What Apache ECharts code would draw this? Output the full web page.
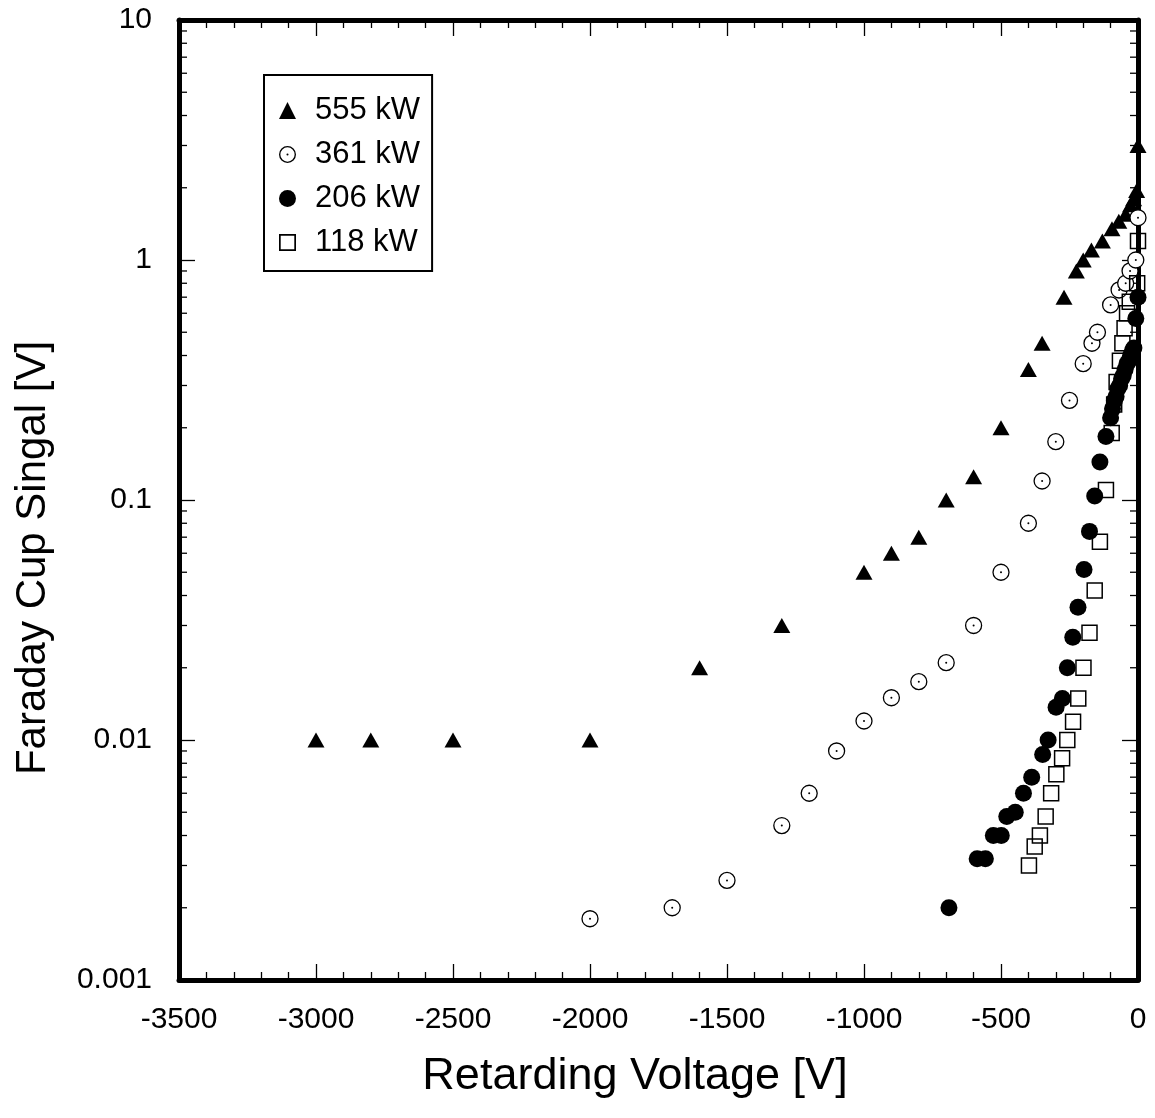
<!DOCTYPE html>
<html>
<head>
<meta charset="utf-8">
<script src="https://cdn.jsdelivr.net/npm/echarts@6/dist/echarts.min.js"></script>
<style>
html,body{margin:0;padding:0;background:#fff;}
#chart{width:1155px;height:1118px;}
</style>
</head>
<body>
<div id="chart"></div>
<script>
// ---- data ----
const seriesNames = ['555 kW', '361 kW', '206 kW', '118 kW'];

const x555 = [-3000, -2800, -2500, -2000, -1600, -1300, -1000, -900, -800, -700, -600, -500, -400, -350, -270, -225, -200, -170, -130, -95, -70, -45, -27, -16, -5, 0];
const y555 = [0.01, 0.01, 0.01, 0.01, 0.02, 0.03, 0.05, 0.06, 0.07, 0.1, 0.125, 0.2, 0.35, 0.45, 0.7, 0.9, 1.0, 1.1, 1.2, 1.35, 1.45, 1.55, 1.7, 1.8, 1.95, 3.0];

const x361 = [-2000, -1700, -1500, -1300, -1200, -1100, -1000, -900, -800, -700, -600, -500, -400, -350, -300, -250, -200, -168, -148, -100, -69, -45, -29, -8, 0];
const y361 = [0.0018, 0.002, 0.0026, 0.0044, 0.006, 0.009, 0.012, 0.015, 0.0175, 0.021, 0.03, 0.05, 0.08, 0.12, 0.175, 0.26, 0.37, 0.45, 0.5, 0.65, 0.75, 0.8, 0.9, 1.0, 1.5];

const x206 = [-690, -587, -557, -528, -499, -479, -448, -418, -388, -348, -328, -299, -276, -258, -238, -219, -197, -177, -158, -139, -117, -100, -93, -86, -80, -74, -67, -60, -54, -47, -40, -33, -27, -20, -15, -8, 0];
const y206 = [0.002, 0.0032, 0.0032, 0.004, 0.004, 0.0048, 0.005, 0.006, 0.007, 0.0087, 0.01, 0.0137, 0.0149, 0.02, 0.0268, 0.0357, 0.0513, 0.074, 0.104, 0.144, 0.184, 0.22, 0.24, 0.26, 0.27, 0.29, 0.30, 0.32, 0.33, 0.35, 0.37, 0.38, 0.40, 0.42, 0.43, 0.57, 0.70];

const x118 = [-398, -377, -358, -337, -317, -298, -277, -258, -237, -218, -199, -177, -158, -139, -117, -96, -87, -78, -66, -57, -49, -40, -30, -3, 0];
const y118 = [0.003, 0.0036, 0.004, 0.0048, 0.006, 0.0072, 0.0084, 0.01, 0.0119, 0.0149, 0.02, 0.028, 0.042, 0.067, 0.11, 0.19, 0.25, 0.31, 0.38, 0.45, 0.52, 0.6, 0.67, 0.8, 1.2];

const xTickLabels = {'-3500':'-3500','-3000':'-3000','-2500':'-2500','-2000':'-2000','-1500':'-1500','-1000':'-1000','-500':'-500','0':'0'};
const yTickLabels = ['0.001', '0.01', '0.1', '1', '10'];
const yMinorTicks = [0.002,0.003,0.004,0.005,0.006,0.007,0.008,0.009,
                     0.02,0.03,0.04,0.05,0.06,0.07,0.08,0.09,
                     0.2,0.3,0.4,0.5,0.6,0.7,0.8,0.9,
                     2,3,4,5,6,7,8,9];

const xTitle = 'Retarding Voltage [V]';
const yTitle = 'Faraday Cup Singal [V]';

// ---- build ----
const zip = (xs, ys) => xs.map((x, i) => [x, ys[i]]);
const FONT = '"Liberation Sans", Arial, Helvetica, sans-serif';
const RING_DOT = 'path://M50,0 A50,50 0 1,1 50,100 A50,50 0 1,1 50,0 Z M50,8 A42,42 0 1,0 50,92 A42,42 0 1,0 50,8 Z M50,44 A6,6 0 1,1 50,56 A6,6 0 1,1 50,44 Z';
const HOLLOW_SQ = 'path://M0,0 L100,0 L100,100 L0,100 Z M10,10 L10,90 L90,90 L90,10 Z';

const chart = echarts.init(document.getElementById('chart'), null, {renderer: 'canvas'});

const axisLine = {show: true, onZero: false, lineStyle: {color: '#000', width: 5}};
const tick = {show: true, inside: true, length: 16, lineStyle: {color: '#000', width: 1.3}};
const minorTick = {show: true, splitNumber: 5, length: 8, lineStyle: {color: '#000', width: 1.3}};
const legendStyle = {color: '#000', borderWidth: 0, opacity: 1};

const option = {
  backgroundColor: '#fff',
  animation: false,
  grid: {left: 179, right: 17, top: 20, bottom: 138, containLabel: false},
  legend: {
    orient: 'vertical',
    left: 264, top: 75,
    padding: [20, 12, 13, 15],
    itemGap: 13,
    itemWidth: 17, itemHeight: 17,
    borderColor: '#000', borderWidth: 2,
    backgroundColor: '#fff',
    selectedMode: false,
    textStyle: {fontSize: 31, lineHeight: 31, color: '#000', fontFamily: FONT, padding: [0, 0, 0, 14]},
    data: [
      {name: seriesNames[0], icon: 'triangle', itemStyle: legendStyle},
      {name: seriesNames[1], icon: RING_DOT, itemStyle: legendStyle},
      {name: seriesNames[2], icon: 'circle', itemStyle: legendStyle},
      {name: seriesNames[3], icon: HOLLOW_SQ, itemStyle: legendStyle}
    ]
  },
  xAxis: [
    {
      type: 'value', position: 'bottom', min: -3500, max: 0, interval: 500,
      axisLine: axisLine, axisTick: tick, minorTick: minorTick,
      splitLine: {show: false}, minorSplitLine: {show: false},
      axisLabel: {show: true, margin: 25, fontSize: 30, color: '#000', fontFamily: FONT,
                  formatter: v => xTickLabels[String(v)] ?? String(v)}
    },
    {
      type: 'value', position: 'top', min: -3500, max: 0, interval: 500,
      axisLine: axisLine, axisTick: tick, minorTick: minorTick,
      splitLine: {show: false}, axisLabel: {show: false}
    }
  ],
  yAxis: [
    {
      type: 'log', logBase: 10, position: 'left', min: 0.001, max: 10,
      axisLine: axisLine, axisTick: tick, minorTick: {show: false},
      splitLine: {show: false},
      axisLabel: {show: true, margin: 27, fontSize: 30, color: '#000', fontFamily: FONT,
                  formatter: v => yTickLabels[Math.round(Math.log10(v)) + 3]}
    },
    {
      type: 'log', logBase: 10, position: 'right', min: 0.001, max: 10,
      axisLine: axisLine, axisTick: tick, minorTick: {show: false},
      splitLine: {show: false}, axisLabel: {show: false}
    }
  ],
  graphic: [
    {
      type: 'text', x: 33, y: 558, rotation: Math.PI / 2,
      style: {text: yTitle, font: '42px ' + FONT, fill: '#000', textAlign: 'center', textVerticalAlign: 'middle'}
    },
    {
      type: 'text', x: 635, y: 1077,
      style: {text: xTitle, font: '45px ' + FONT, fill: '#000', textAlign: 'center', textVerticalAlign: 'middle'}
    }
  ],
  series: [
    {
      type: 'custom', name: '_yminor', silent: true, clip: false,
      xAxisIndex: 0, yAxisIndex: 0,
      data: yMinorTicks.map(v => [0, v]),
      renderItem: function (params, api) {
        const v = api.value(1);
        const l = api.coord([-3500, v]);
        const r = api.coord([0, v]);
        const st = {stroke: '#000', lineWidth: 1.3};
        return {type: 'group', children: [
          {type: 'line', shape: {x1: l[0], y1: l[1], x2: l[0] + 8, y2: l[1]}, style: st},
          {type: 'line', shape: {x1: r[0] - 8, y1: r[1], x2: r[0], y2: r[1]}, style: st}
        ]};
      }
    },
    {
      type: 'scatter', name: seriesNames[0], data: zip(x555, y555),
      symbol: 'triangle', symbolSize: [17, 15], clip: false,
      itemStyle: {color: '#000', opacity: 1}
    },
    {
      type: 'scatter', name: seriesNames[1], data: zip(x361, y361),
      symbol: 'circle', symbolSize: 16, clip: false,
      itemStyle: {color: '#fff', borderColor: '#000', borderWidth: 1.3, opacity: 1}
    },
    {
      type: 'scatter', name: '_361dot', data: zip(x361, y361),
      symbol: 'circle', symbolSize: 2, clip: false, silent: true,
      itemStyle: {color: '#000', opacity: 1}
    },
    {
      type: 'scatter', name: seriesNames[2], data: zip(x206, y206),
      symbol: 'circle', symbolSize: 17, clip: false,
      itemStyle: {color: '#000', opacity: 1}
    },
    {
      type: 'scatter', name: seriesNames[3], data: zip(x118, y118),
      symbol: 'rect', symbolSize: 15, clip: false,
      itemStyle: {color: 'rgba(0,0,0,0)', borderColor: '#000', borderWidth: 1.5, opacity: 1}
    }
  ]
};
chart.setOption(option);
</script>
</body>
</html>
